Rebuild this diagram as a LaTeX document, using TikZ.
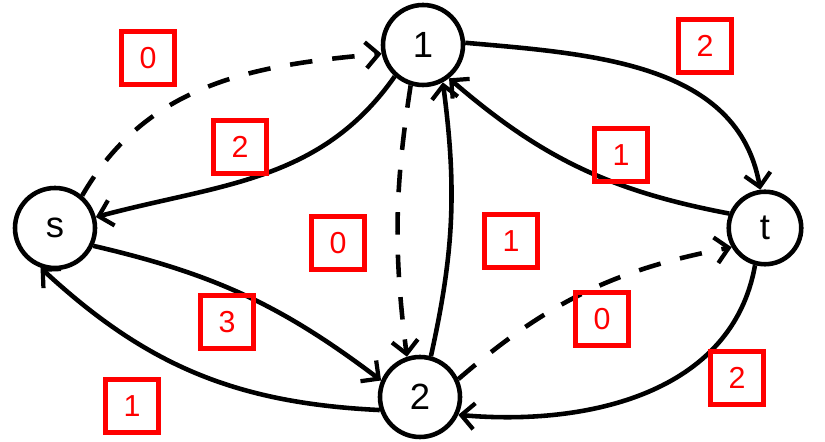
\documentclass[tikz,border=0pt]{standalone}
\usepackage{fontspec}
\setmainfont{Liberation Sans}
\usetikzlibrary{arrows.meta}
\definecolor{WeightRed}{HTML}{FF0000}
\definecolor{InkBlack}{HTML}{000000}

\begin{document}
\begin{tikzpicture}[
    vertex/.style={
      circle,
      draw=InkBlack,
      line width=2.6pt,
      minimum size=1.6cm,
      inner sep=0pt,
      font=\huge
    },
    wbox/.style={
      draw=WeightRed,
      text=WeightRed,
      line width=2.6pt,
      minimum width=1.05cm,
      minimum height=1.05cm,
      inner sep=0pt,
      font=\LARGE
    },
    flow/.style={
      draw=InkBlack,
      line width=2.6pt,
      -{Straight Barb[length=2.6mm,width=5.2mm,line width=2.4pt]}
    },
    resid/.style={
      flow,
      dash pattern=on 0.45cm off 0.4cm
    }
  ]
  \useasboundingbox (0,0) rectangle (16.5,8.84);

  % vertices
  \node[vertex] (s) at (1.10,4.28) {s};
  \node[vertex] (v1) at (8.46,7.94) {1};
  \node[vertex] (v2) at (8.40,0.90) {2};
  \node[vertex,minimum size=1.45cm] (t) at (15.30,4.28) {t};

  % edges
  \draw[resid] (s.50) to[out=60,in=185] (v1.192);
  \draw[flow] (v1.228) to[out=235,in=15] (s.15);
  \draw[resid] (v1.253) to[bend right=8] (v2.108);
  \draw[flow] (v2.75) to[bend right=10] (v1.298);
  \draw[flow] (v1.3) to[out=-5,in=100] (t.97);
  \draw[flow] (t.158) to[bend left=15] (v1.308);
  \draw[flow] (s.-25) to[bend left=12] (v2.157);
  \draw[flow] (v2.198) to[bend left=20] (s.250);
  \draw[resid] (v2.25) to[bend left=15] (t.210);
  \draw[flow] (t.255) to[out=260,in=-5] (v2.335);

  % weights
  \node[wbox] (w1) at (2.96,7.68) {0};
  \node[wbox] (w2) at (4.80,5.90) {2};
  \node[wbox] (w3) at (14.10,7.92) {2};
  \node[wbox] (w4) at (12.42,5.74) {1};
  \node[wbox] (w5) at (6.76,3.98) {0};
  \node[wbox] (w6) at (10.22,4.02) {1};
  \node[wbox] (w7) at (4.54,2.40) {3};
  \node[wbox] (w8) at (2.64,0.72) {1};
  \node[wbox] (w9) at (12.04,2.46) {0};
  \node[wbox] (w10) at (14.74,1.28) {2};
\end{tikzpicture}
\end{document}
